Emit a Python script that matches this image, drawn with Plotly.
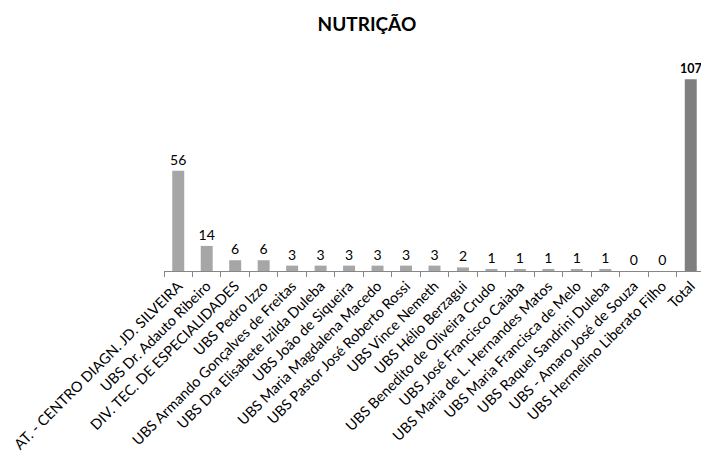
import plotly.graph_objects as go

categories = [
    "AT. - CENTRO DIAGN. JD. SILVEIRA",
    "UBS Dr. Adauto Ribeiro",
    "DIV. TEC. DE ESPECIALIDADES",
    "UBS Pedro Izzo",
    "UBS Armando Gonçalves de Freitas",
    "UBS Dra Elisabete Izilda Duleba",
    "UBS João de Siqueira",
    "UBS Maria Magdalena Macedo",
    "UBS Pastor José Roberto Rossi",
    "UBS Vince Nemeth",
    "UBS Hélio Berzagui",
    "UBS Benedito de Oliveira Crudo",
    "UBS José Francisco Caiaba",
    "UBS Maria de L. Hernandes Matos",
    "UBS Maria Francisca de Melo",
    "UBS Raquel Sandrini Duleba",
    "UBS - Amaro José de Souza",
    "UBS Hermelino Liberato Filho",
    "Total",
]
values = [56, 14, 6, 6, 3, 3, 3, 3, 3, 3, 2, 1, 1, 1, 1, 1, 0, 0, 107]

LIGHT = "#A6A6A6"
DARK = "#7F7F7F"
FONT = "Lato, Liberation Sans, sans-serif"
colors = [DARK if c == "Total" else LIGHT for c in categories]
texts = [f"<b>{v}</b>" if c == "Total" else str(v) for c, v in zip(categories, values)]
text_sizes = [12.5 if c == "Total" else 14 for c in categories]

fig = go.Figure(
    go.Bar(
        x=categories,
        y=values,
        marker=dict(color=colors, line=dict(width=0)),
        text=texts,
        textposition="outside",
        constraintext="none",
        textfont=dict(family=FONT, size=text_sizes, color="#000000"),
        cliponaxis=False,
        width=0.42,
    )
)

fig.update_layout(
    width=701,
    height=455,
    paper_bgcolor="white",
    plot_bgcolor="white",
    showlegend=False,
    margin=dict(l=156, r=4, t=48, b=192),
    title=dict(
        text="<b>NUTRIÇÃO</b>",
        x=0.512,
        xanchor="center",
        y=0.965,
        yanchor="middle",
        font=dict(family=FONT, size=19, color="#000000"),
    ),
    font=dict(family=FONT, color="#000000"),
)

fig.update_xaxes(
    type="category",
    tickangle=-45,
    tickfont=dict(family=FONT, size=14.5, color="#000000"),
    showline=True,
    linecolor="#868686",
    linewidth=1,
    ticks="outside",
    tickson="boundaries",
    ticklen=5,
    tickcolor="#868686",
    showgrid=False,
    automargin=False,
)
fig.update_yaxes(
    range=[0, 120],
    visible=False,
    showgrid=False,
    zeroline=False,
)

fig.write_html("out.html")
